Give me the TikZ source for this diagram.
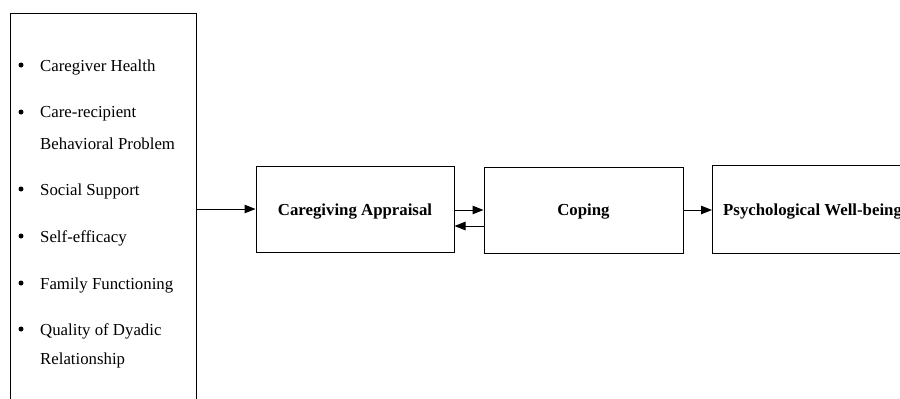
\documentclass[tikz,border=0pt]{standalone}
\usepackage{fontspec}
\setmainfont{Liberation Serif}
\usetikzlibrary{arrows.meta}
\begin{document}
\begin{tikzpicture}[x=1pt,y=-1pt,
  box/.style={draw,line width=1pt,inner sep=0pt},
  item/.style={anchor=west,font=\fontsize{16.8}{19}\selectfont,inner sep=0pt},
  dot/.style={circle,fill,inner sep=0pt,minimum size=5pt},
  lbl/.style={font=\fontsize{16.8}{19}\selectfont\bfseries,inner sep=0pt},
  arr/.style={line width=1pt,-{Triangle[length=11pt,width=8.5pt]}}]
\useasboundingbox (0,0) rectangle (900,399);
\clip (0,0) rectangle (900,399);
% left box
\node[box,minimum width=186pt,minimum height=400pt,anchor=north west] (left) at (10,13) {};
\coordinate (lout) at (196,209);
% bullets
\foreach \y in {65,112,189,236,283,329} \node[dot] at (21,\y) {};
\node[item] (i1) at (40,67) {Caregiver Health};
\node[item] (i2a) at (40,114) {Care-recipient};
\node[item] (i2b) at (40,144) {Behavioral Problem};
\node[item] (i3) at (40,191) {Social Support};
\node[item] (i4) at (40,238) {Self-efficacy};
\node[item] (i5) at (40,285) {Family Functioning};
\node[item] (i6a) at (40,331) {Quality of Dyadic};
\node[item] (i6b) at (40,360) {Relationship};
% boxes
\node[box,minimum width=198pt,minimum height=86pt] (app) at (355,209) {};
\node[lbl] at (355,212) {Caregiving Appraisal};
\node[box,minimum width=199pt,minimum height=86pt] (cop) at (583.5,210) {};
\node[lbl] at (583.5,212) {Coping};
\node[box,minimum width=220pt,minimum height=88pt,anchor=west] (pwb) at (712,209) {};
\node[lbl,anchor=west] at (723,212) {Psychological Well-being};
% arrows
\draw[arr] (lout) -- (app.west |- lout);
\draw[arr] (app.east |- 0,210) -- (cop.west |- 0,210);
\draw[arr] (cop.west |- 0,226) -- (app.east |- 0,226);
\draw[arr] (cop.east |- 0,210) -- (pwb.west |- 0,210);
\end{tikzpicture}
\end{document}
